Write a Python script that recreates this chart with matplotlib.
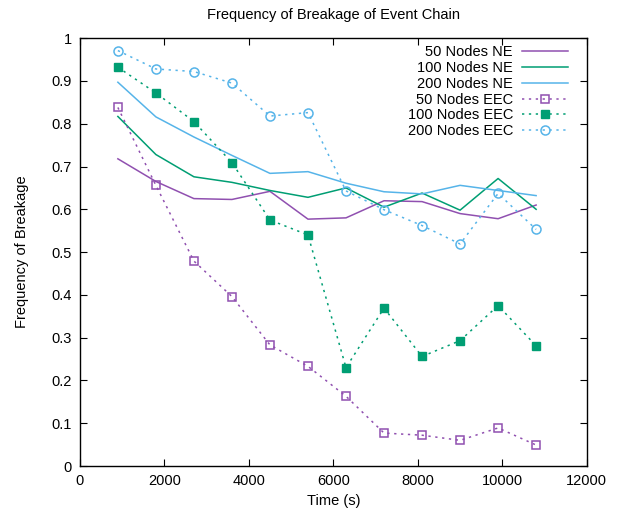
import matplotlib
matplotlib.use("Agg")
import matplotlib.pyplot as plt

plt.rcParams['font.family'] = ['Liberation Sans', 'DejaVu Sans']

# time points (s)
time_s = [900, 1800, 2700, 3600, 4500, 5400, 6300, 7200, 8100, 9000, 9900, 10800]

ne_50 = [0.718, 0.665, 0.625, 0.623, 0.642, 0.577, 0.580, 0.620, 0.618, 0.590, 0.578, 0.610]
ne_100 = [0.817, 0.728, 0.676, 0.663, 0.644, 0.628, 0.650, 0.605, 0.638, 0.598, 0.672, 0.600]
ne_200 = [0.897, 0.816, 0.769, 0.726, 0.684, 0.688, 0.661, 0.641, 0.636, 0.656, 0.644, 0.632]
eec_50 = [0.838, 0.656, 0.479, 0.396, 0.283, 0.233, 0.163, 0.077, 0.072, 0.060, 0.089, 0.049]
eec_100 = [0.932, 0.872, 0.805, 0.709, 0.575, 0.540, 0.230, 0.369, 0.256, 0.293, 0.375, 0.281]
eec_200 = [0.971, 0.928, 0.922, 0.895, 0.818, 0.826, 0.643, 0.599, 0.562, 0.519, 0.637, 0.553]

purple = "#9050b0"
green = "#009e73"
blue = "#56b4e9"

fig = plt.figure(figsize=(6.19, 5.13), dpi=100)
ax = fig.add_axes([0.129, 0.0916, 0.819, 0.834])

dots = (0, (1.5, 3))
ax.plot(time_s, ne_50, color=purple, lw=1.1, label="50 Nodes NE")
ax.plot(time_s, ne_100, color=green, lw=1.1, label="100 Nodes NE")
ax.plot(time_s, ne_200, color=blue, lw=1.1, label="200 Nodes NE")
ax.plot(time_s, eec_50, color=purple, lw=1.1, ls=dots, marker="s", ms=6,
        mfc="none", mec=purple, mew=1.1, label="50 Nodes EEC")
ax.plot(time_s, eec_100, color=green, lw=1.1, ls=dots, marker="s", ms=6,
        mfc=green, mec=green, label="100 Nodes EEC")
ax.plot(time_s, eec_200, color=blue, lw=1.1, ls=dots, marker="o", ms=6.5,
        mfc="none", mec=blue, mew=1.1, label="200 Nodes EEC")

ax.set_xlim(0, 12000)
ax.set_ylim(0, 1)
ax.set_xticks(range(0, 12001, 2000))
ax.set_yticks([i / 10 for i in range(11)])
ax.set_yticklabels(["0", "0.1", "0.2", "0.3", "0.4", "0.5", "0.6", "0.7", "0.8", "0.9", "1"])
ax.tick_params(direction="in", top=True, right=True, length=5, labelsize=10.5, pad=6)
for s in ax.spines.values():
    s.set_linewidth(1.0)

ax.set_title("Frequency of Breakage of Event Chain", fontsize=10.5, pad=14)
ax.set_xlabel("Time (s)", fontsize=10.5)
ax.set_ylabel("Frequency of Breakage", fontsize=10.5, labelpad=16)

ax.legend(loc="upper right", bbox_to_anchor=(0.978, 1.0), frameon=False,
          markerfirst=False, fontsize=10.5, handlelength=3.2, labelspacing=0.12,
          borderaxespad=0.1, handletextpad=0.6)

fig.savefig("out.png", dpi=100)
